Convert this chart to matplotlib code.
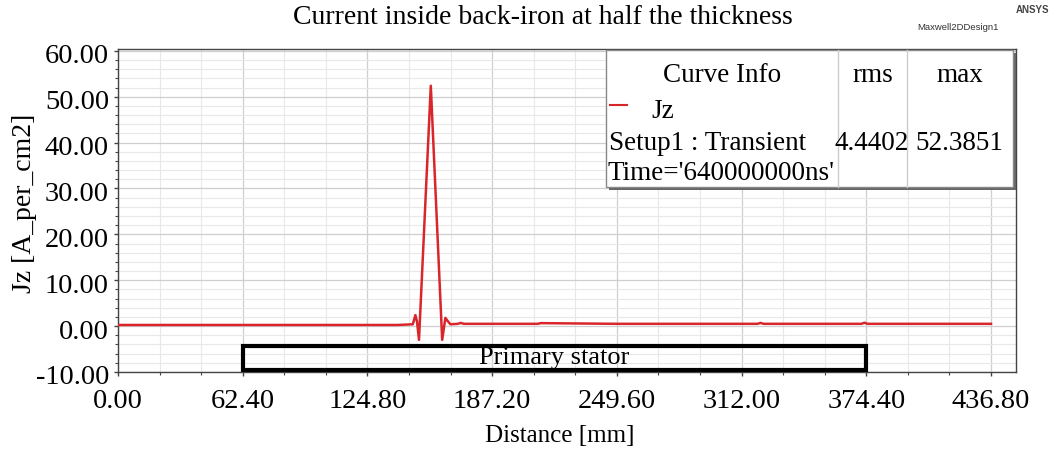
import matplotlib
matplotlib.use("Agg")
import matplotlib.pyplot as plt
import matplotlib.transforms as mtransforms
from matplotlib.patches import Rectangle
from matplotlib.ticker import MultipleLocator, FormatStrFormatter

# data
distance_mm = [0.0, 62.4, 124.8, 140.0, 147.5, 148.8, 149.6, 150.6, 156.5, 162.2,
               163.8, 164.8, 166.3, 170.0, 171.5, 173.0, 176.0, 210.0, 211.5,
               250.0, 320.0, 321.5, 323.0, 372.0, 373.5, 375.0, 436.8]
jz = [0.25, 0.25, 0.25, 0.25, 0.4, 2.4, 1.0, -3.0, 52.39, -3.0,
      1.8, 1.2, 0.4, 0.5, 0.7, 0.5, 0.5, 0.5, 0.65,
      0.5, 0.5, 0.7, 0.5, 0.5, 0.75, 0.5, 0.5]

x_ticks = [0.0, 62.4, 124.8, 187.2, 249.6, 312.0, 374.4, 436.8]
y_ticks = [-10, 0, 10, 20, 30, 40, 50, 60]
stator = (62.4, 374.4)
rms_val = "4.4402"
max_val = "52.3851"

serif = ["Liberation Serif", "DejaVu Serif"]
plt.rcParams["font.family"] = serif

fig = plt.figure(figsize=(10.57, 4.54), dpi=100)
ax = fig.add_axes([118 / 1057, 1 - 372 / 454, 898 / 1057, 323 / 454])

ax.plot(distance_mm, jz, color="#d9262b", lw=1.8, zorder=3)

ax.set_xlim(0, 449.3)
ax.set_ylim(-10, 60.4)
ax.set_xticks(x_ticks)
ax.xaxis.set_minor_locator(MultipleLocator(20.8))
ax.set_yticks(y_ticks)
ax.yaxis.set_minor_locator(MultipleLocator(2))
ax.xaxis.set_major_formatter(FormatStrFormatter("%.2f"))
ax.yaxis.set_major_formatter(FormatStrFormatter("%.2f"))

ax.grid(which="major", color="#cfcfcf", lw=0.9)
ax.grid(which="minor", color="#e8e8e8", lw=0.8)
ax.set_axisbelow(True)
ax.tick_params(which="major", direction="out", length=3, width=1, color="#444444",
               labelsize=20.5)
ax.tick_params(axis="x", which="major", pad=9)
ax.tick_params(axis="y", which="major", pad=3.5)
ax.tick_params(which="minor", direction="out", length=2.5, width=0.8, color="#444444")
for s in ax.spines.values():
    s.set_color("#444444")
    s.set_linewidth(1)

# y tick labels sit a little below their ticks in the reference
down = mtransforms.ScaledTranslation(0, -3 / 100, fig.dpi_scale_trans)
for lab in ax.get_yticklabels():
    lab.set_transform(lab.get_transform() + down)

fig.text(560 / 1057, 1 - 436 / 454, "Distance [mm]", ha="center", va="center",
         fontsize=18)
fig.text(25 / 1057, 1 - 203 / 454, "Jz [A_per_cm2]", ha="center", va="center",
         fontsize=20, rotation=90)
fig.text(543 / 1057, 1 - 18 / 454, "Current inside back-iron at half the thickness",
         ha="center", va="center", fontsize=20)
fig.text(958 / 1057, 1 - 27 / 454, "Maxwell2DDesign1", ha="center", va="center",
         fontsize=6.8, family="Liberation Sans", color="#333333")
fig.text(1032 / 1057, 1 - 10 / 454, "ANSYS", ha="center", va="center",
         fontsize=7, family="Liberation Sans", weight="bold", color="#444444")

# primary stator box
ax.add_patch(Rectangle((stator[0], -9.6), stator[1] - stator[0], 5.3,
                       fill=False, ec="black", lw=3, zorder=4))
ax.text(sum(stator) / 2, -6.9, "Primary stator", ha="center", va="center",
        fontsize=19, zorder=5)

# curve info table (figure pixels -> fraction)
def fx(px):
    return px / 1057

def fy(py):
    return 1 - py / 454

L, R, T, B = 606, 1013, 50, 187
fig.patches.append(Rectangle((fx(L + 3), fy(B + 3)), fx(R - L), fy(T) - fy(B),
                             transform=fig.transFigure, fc="#666666", ec="none",
                             zorder=5))
fig.patches.append(Rectangle((fx(L), fy(B)), fx(R - L), fy(T) - fy(B),
                             transform=fig.transFigure, fc="white", ec="#888888",
                             lw=1, zorder=6))
for cx in (838, 907):
    fig.add_artist(plt.Line2D([fx(cx), fx(cx)], [fy(T), fy(B)], color="#cccccc",
                              lw=1, transform=fig.transFigure, zorder=7))
fig.add_artist(plt.Line2D([fx(610), fx(627)], [fy(105), fy(105)], color="#d9262b",
                          lw=1.5, transform=fig.transFigure, zorder=7))
fs = 19.5
fig.text(fx(722), fy(75), "Curve Info", ha="center", va="center", fontsize=fs, zorder=8)
fig.text(fx(873), fy(75), "rms", ha="center", va="center", fontsize=fs, zorder=8)
fig.text(fx(960), fy(75), "max", ha="center", va="center", fontsize=fs, zorder=8)
fig.text(fx(651), fy(112), "Jz", ha="left", va="center", fontsize=fs, zorder=8)
fig.text(fx(609), fy(143), "Setup1 : Transient", ha="left", va="center",
         fontsize=fs, zorder=8)
fig.text(fx(872), fy(143), rms_val, ha="center", va="center", fontsize=fs, zorder=8)
fig.text(fx(959), fy(143), max_val, ha="center", va="center", fontsize=fs, zorder=8)
fig.text(fx(608), fy(173), "Time='640000000ns'", ha="left", va="center",
         fontsize=fs, zorder=8)

fig.savefig("out.png", dpi=100)
